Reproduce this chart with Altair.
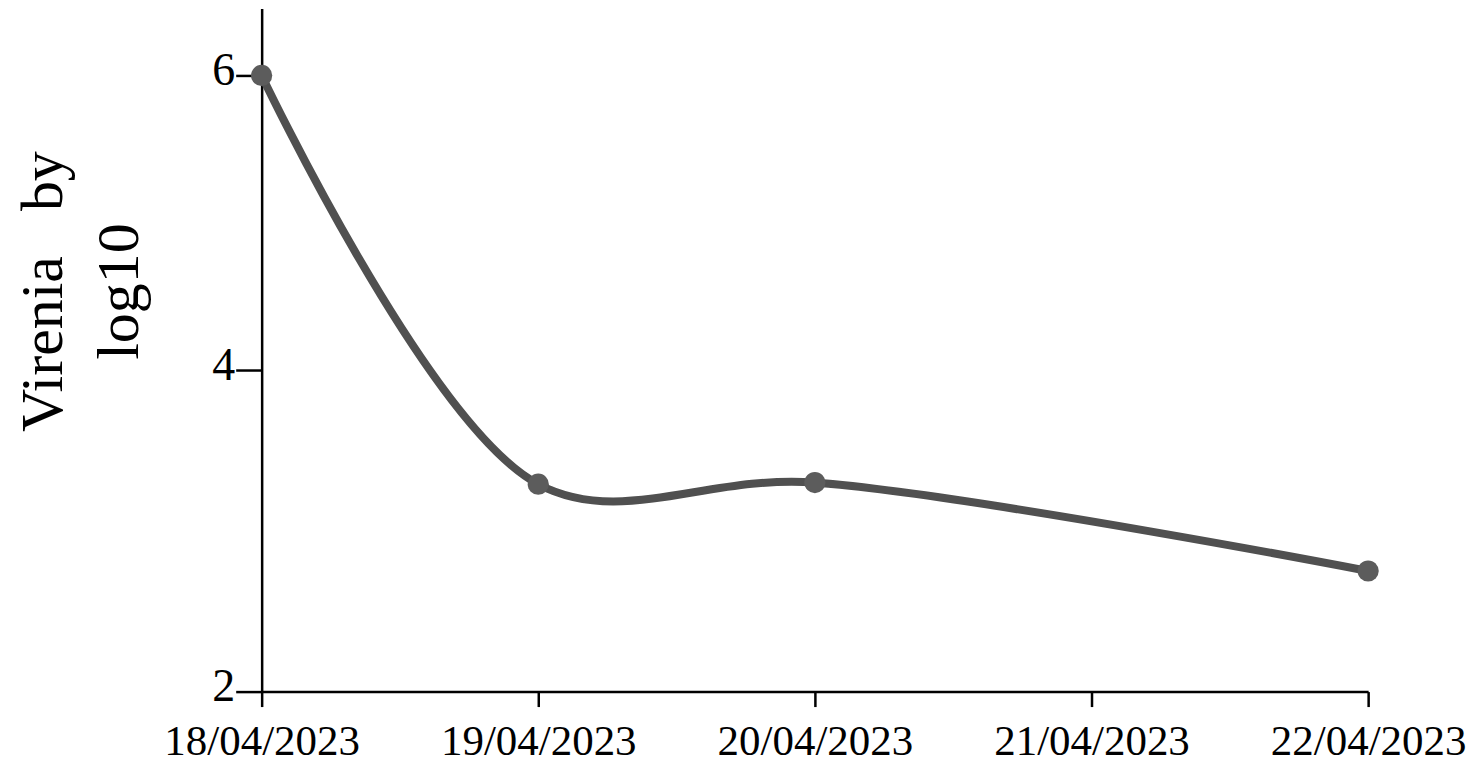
import altair as alt
import pandas as pd

dates_all = ["18/04/2023", "19/04/2023", "20/04/2023", "21/04/2023", "22/04/2023"]
dates = ["18/04/2023", "19/04/2023", "20/04/2023", "22/04/2023"]
viremia = [6.0, 3.29, 3.30, 2.75]
y_ticks = [2, 4, 6]

df = pd.DataFrame({"date": dates, "v": viremia})

x_enc = alt.X("date:O", scale=alt.Scale(domain=dates_all, type="point", padding=0),
              axis=alt.Axis(title=None, labelAngle=0, labelFont="Liberation Serif",
                            labelFontSize=43, labelColor="black", labelPadding=14,
                            labelLimit=0, labelOverlap=False,
                            tickSize=15, tickWidth=2.5, tickColor="black",
                            domainColor="black", domainWidth=2.5, grid=False))
y_enc = alt.Y("v:Q",
              scale=alt.Scale(domain=[2, 4, 6, 6.45], range=[684, 362, 67, 0], nice=False, zero=False),
              axis=alt.Axis(title=["Virenia\u00a0\u00a0 by", "log10"], values=y_ticks, format="d",
                            labelFont="Liberation Serif", labelFontSize=46, labelColor="black",
                            labelPadding=1, labelOffset=-5, tickSize=26, tickWidth=2.5, tickColor="black",
                            domainColor="black", domainWidth=2.5, grid=False,
                            titleFont="Liberation Serif", titleFontSize=60,
                            titleFontWeight="normal", titleColor="black",
                            titleAngle=270, titleAlign="center", titleBaseline="middle",
                            titleX=-218, titleY=283, titleLineHeight=76))

line = alt.Chart(df).mark_line(interpolate="catmull-rom", color="#505050", strokeWidth=8).encode(
    x=x_enc, y=y_enc)
pts = alt.Chart(df).mark_point(filled=True, size=450, color="#5c5c5c", opacity=1).encode(
    x=x_enc, y=y_enc)

chart = (line + pts).properties(
    width=1108, height=684,
    autosize=alt.AutoSizeParams(type="none"),
    padding={"left": 254, "top": 0, "right": 100, "bottom": 80},
    view=alt.ViewBackground(stroke="white", strokeWidth=0, strokeOpacity=0),
).configure_view(stroke="white", strokeWidth=0, strokeOpacity=0).configure(background="white")

chart.save("out.html", embed_options={"renderer": "svg", "actions": False})
